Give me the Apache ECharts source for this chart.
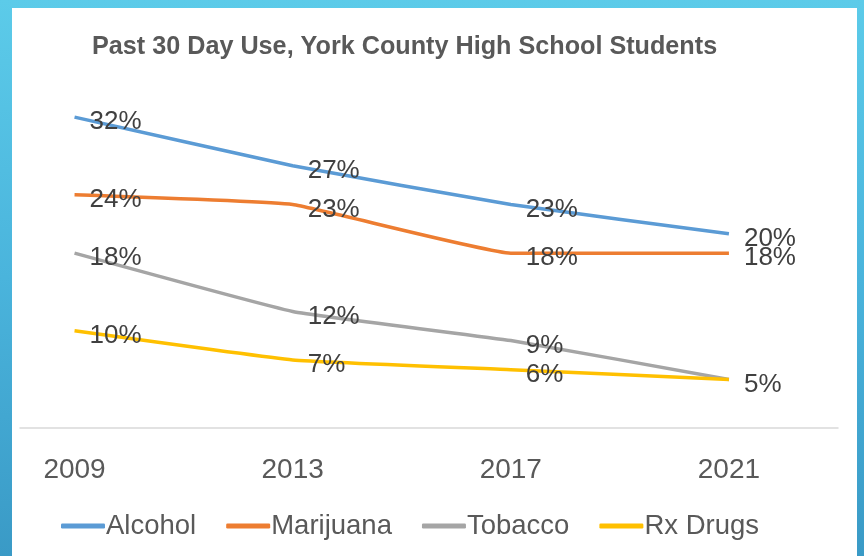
<!DOCTYPE html>
<html>
<head>
<meta charset="utf-8">
<script src="https://cdn.jsdelivr.net/npm/echarts@6/dist/echarts.min.js"></script>
<style>
  html, body { margin: 0; padding: 0; }
  body { width: 864px; height: 556px; position: relative; overflow: hidden;
         background: linear-gradient(180deg, #5ccbe9 0%, #4ab4dc 50%, #3a9ac6 100%); }
  #panel { position: absolute; left: 12px; top: 8px; width: 845px; height: 548px; background: #ffffff; }
  #chart { position: absolute; left: 0; top: 0; width: 864px; height: 556px; }
</style>
</head>
<body>
<div id="panel"></div>
<div id="chart"></div>
<script>
const years = [2009, 2013, 2017, 2021];
const alcohol = [32, 27, 23, 20];
const marijuana = [24, 23, 18, 18];
const tobacco = [18, 12, 9, 5];
const rxDrugs = [10, 7, 6, 5];
const seriesNames = ['Alcohol', 'Marijuana', 'Tobacco', 'Rx Drugs'];
const colors = ['#5b9bd5', '#ed7d31', '#a5a5a5', '#ffc000'];
// labels hidden where they coincide with another series' label
const hiddenLabels = { 'Tobacco': [2021] };

const FONT = '"Liberation Sans Narrow", "Liberation Sans", Arial, sans-serif';

function mk(name, vals, color) {
  const hide = hiddenLabels[name] || [];
  return {
    name: name,
    type: 'line',
    smooth: 0.1,
    symbol: 'circle',
    symbolSize: 0,
    showSymbol: true,
    data: years.map((y, i) => ({
      value: [y, vals[i]],
      label: { show: hide.indexOf(y) < 0, position: 'right', distance: 15, offset: [0, 5] }
    })),
    lineStyle: { color: color, width: 3.5 },
    itemStyle: { color: color },
    label: {
      show: true,
      position: 'right',
      distance: 15,
      offset: [0, 5],
      formatter: p => p.value[1] + '%',
      fontFamily: FONT,
      fontSize: 26,
      color: '#404040'
    },
    emphasis: { disabled: true },
    z: 3
  };
}

const chart = echarts.init(document.getElementById('chart'), null, { renderer: 'canvas' });
chart.setOption({
  animation: false,
  backgroundColor: 'transparent',
  color: colors,
  title: {
    text: 'Past 30 Day Use, York County High School Students',
    left: 87,
    top: 30,
    textStyle: { fontFamily: FONT, fontWeight: 'bold', fontSize: 25.2, color: '#595959' }
  },
  legend: {
    data: seriesNames,
    left: 56,
    top: 507,
    itemWidth: 44,
    itemHeight: 5,
    itemGap: 30,
    icon: 'roundRect',
    textStyle: { fontFamily: FONT, fontSize: 27.5, color: '#595959', padding: [0, 0, 0, -4] }
  },
  grid: { left: 20, right: 26, top: 88, bottom: 128, containLabel: false },
  xAxis: {
    type: 'value',
    min: 2008,
    max: 2023,
    axisLine: { show: true, lineStyle: { color: '#d9d9d9', width: 1.5 } },
    axisTick: { show: false },
    splitLine: { show: false },
    axisLabel: {
      customValues: years,
      formatter: v => String(v),
      margin: 28,
      fontFamily: FONT,
      fontSize: 28,
      color: '#595959'
    }
  },
  yAxis: {
    type: 'value',
    min: 0,
    max: 35,
    show: false,
    splitLine: { show: false }
  },
  series: [
    mk('Alcohol', alcohol, colors[0]),
    mk('Marijuana', marijuana, colors[1]),
    mk('Tobacco', tobacco, colors[2]),
    mk('Rx Drugs', rxDrugs, colors[3])
  ]
});
</script>
</body>
</html>
